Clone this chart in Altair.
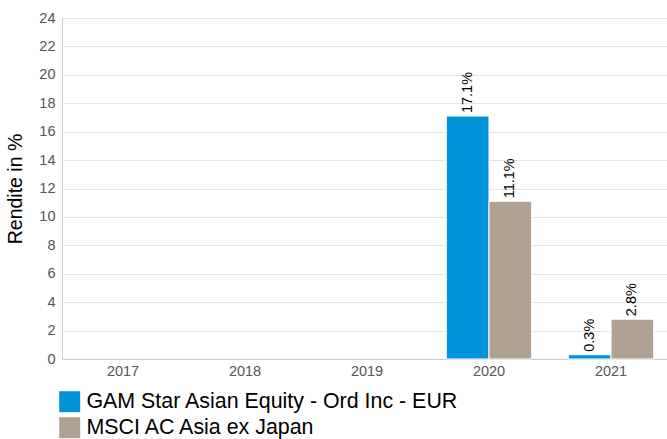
import altair as alt
import pandas as pd

years = ["2017", "2018", "2019", "2020", "2021"]
series = ["GAM Star Asian Equity - Ord Inc - EUR", "MSCI AC Asia ex Japan"]
data_years = ["2020", "2020", "2021", "2021"]
data_series = [series[0], series[1], series[0], series[1]]
values = [17.1, 11.1, 0.3, 2.8]
labels = ["17.1%", "11.1%", "0.3%", "2.8%"]
colors = ["#0095d8", "#b1a192"]

df = pd.DataFrame({"year": data_years, "series": data_series, "value": values, "label": labels})

font = "Liberation Sans"

x = alt.X("year:N", scale=alt.Scale(domain=years, range=[0, 610], paddingInner=0.3, paddingOuter=0.15),
          axis=alt.Axis(title=None, labelAngle=0, labelFontSize=14.5, labelColor="#555555",
                        labelFont=font, ticks=False, domainColor="#cccccc", labelPadding=5))
xo = alt.XOffset("series:N", scale=alt.Scale(domain=series, paddingInner=0.0))
y = alt.Y("value:Q", scale=alt.Scale(domain=[0, 24]),
          axis=alt.Axis(title="Rendite in %", values=list(range(0, 25, 2)), labelFontSize=14.5,
                        labelColor="#555555", labelFont=font, titleFont=font, titleFontSize=19.5,
                        titleFontWeight="normal", titleColor="#000000", ticks=False,
                        domain=True, domainColor="#cccccc", gridColor="#e6e6e6",
                        labelPadding=7, titlePadding=13))

bars = alt.Chart(df).mark_bar(stroke="white", strokeWidth=1).encode(
    x=x, xOffset=xo, y=y,
    color=alt.Color("series:N", scale=alt.Scale(domain=series, range=colors),
                    legend=alt.Legend(title=None, orient="none", legendX=-3, legendY=373,
                                      symbolType="square", symbolSize=440, symbolStrokeWidth=0,
                                      labelFontSize=21.4, labelFont=font, labelColor="#000000",
                                      rowPadding=3, labelOffset=6, labelLimit=600,
                                      symbolOpacity=1)),
)

text = alt.Chart(df).mark_text(angle=270, align="left", baseline="middle", dx=3,
                               fontSize=14.5, font=font, color="#000000").encode(
    x=x, xOffset=xo, y=y, text="label:N"
)

chart = (bars + text).properties(
    width=605, height=341,
    autosize=alt.AutoSizeParams(type="none"),
    padding={"left": 62, "top": 18, "right": 0, "bottom": 80},
).configure_view(stroke=None).configure(background="white")

chart.save("out.html", embed_options={"renderer": "svg", "actions": False})
